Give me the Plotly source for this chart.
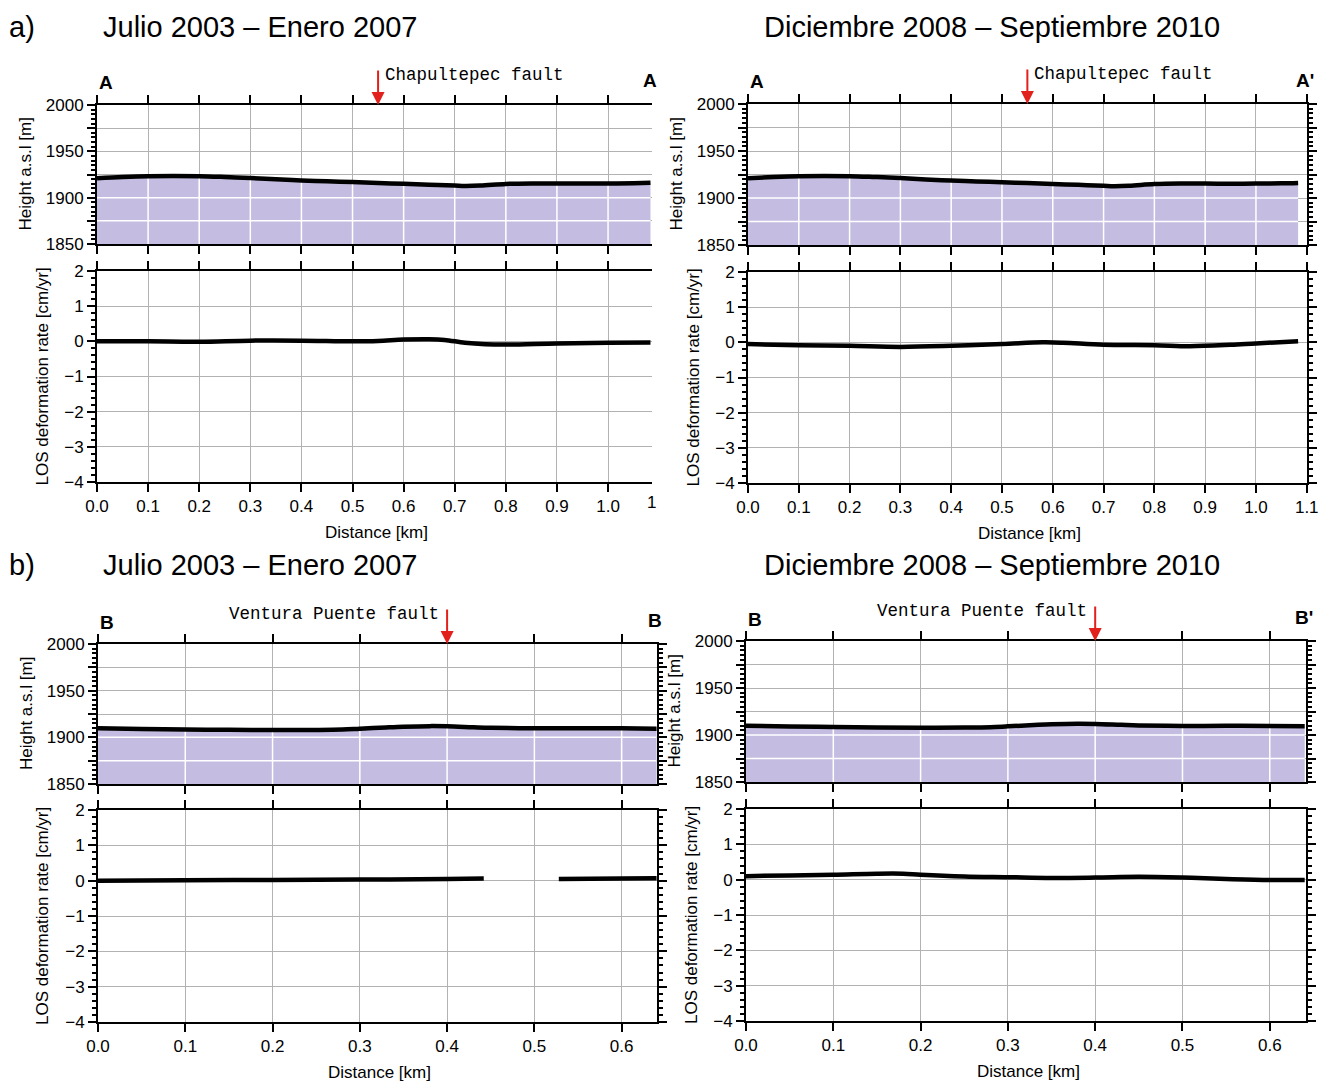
import numpy as np
import plotly.graph_objects as go

# ---------------- data ----------------
# Topographic profile A-A' (distance km, height m a.s.l.)
dist_A = [0.0, 0.05, 0.1, 0.15, 0.2, 0.25, 0.3, 0.35, 0.4, 0.45, 0.5, 0.55, 0.6,
          0.65, 0.7, 0.72, 0.75, 0.8, 0.85, 0.9, 0.95, 1.0, 1.05, 1.083]
height_A = [1921.0, 1922.3, 1923.2, 1923.4, 1923.2, 1922.3, 1921.2, 1919.8, 1918.5,
            1917.6, 1916.8, 1915.9, 1914.9, 1914.0, 1913.0, 1912.6, 1913.0, 1914.8,
            1915.4, 1915.3, 1915.2, 1915.3, 1915.6, 1916.0]

# Topographic profile B-B'
dist_B = [0.0, 0.05, 0.1, 0.15, 0.2, 0.25, 0.28, 0.3, 0.33, 0.35, 0.38, 0.4, 0.43,
          0.45, 0.5, 0.55, 0.6, 0.64]
height_B = [1909.8, 1909.0, 1908.5, 1908.0, 1907.8, 1907.9, 1908.3, 1909.2, 1910.6,
            1911.4, 1912.0, 1911.8, 1910.8, 1910.2, 1909.6, 1909.8, 1909.7, 1909.2]

# LOS deformation rate (cm/yr), A-A', Julio 2003 - Enero 2007
los_A1_dist = [0.0, 0.1, 0.2, 0.3, 0.4, 0.5, 0.55, 0.6, 0.65, 0.68, 0.72, 0.76, 0.8,
               0.9, 1.0, 1.083]
los_A1 = [0.0, 0.0, -0.01, 0.02, 0.02, 0.0, 0.01, 0.05, 0.06, 0.04, -0.04, -0.08,
          -0.09, -0.06, -0.04, -0.03]

# LOS deformation rate, A-A', Diciembre 2008 - Septiembre 2010
los_A2_dist = [0.0, 0.1, 0.2, 0.3, 0.4, 0.5, 0.58, 0.62, 0.7, 0.8, 0.87, 0.95, 1.0,
               1.083]
los_A2 = [-0.05, -0.08, -0.10, -0.13, -0.10, -0.05, 0.0, -0.01, -0.07, -0.08, -0.11,
          -0.07, -0.03, 0.03]

# LOS deformation rate, B-B', Julio 2003 - Enero 2007 (no data across the gap)
los_B1_dist = [0.0, 0.1, 0.2, 0.3, 0.4, 0.442, 0.485, 0.528, 0.6, 0.64]
los_B1 = [0.0, 0.01, 0.02, 0.03, 0.05, 0.06, None, 0.05, 0.06, 0.07]

# LOS deformation rate, B-B', Diciembre 2008 - Septiembre 2010
los_B2_dist = [0.0, 0.05, 0.1, 0.15, 0.18, 0.2, 0.25, 0.3, 0.35, 0.4, 0.45, 0.5,
               0.55, 0.6, 0.64]
los_B2 = [0.10, 0.12, 0.14, 0.17, 0.17, 0.14, 0.09, 0.07, 0.05, 0.06, 0.08, 0.06,
          0.02, -0.01, -0.01]

# Fault positions along each profile (km)
fault_A = 0.55
fault_B = 0.40

period_labels = ["Julio 2003 \u2013 Enero 2007", "Diciembre 2008 \u2013 Septiembre 2010"]
height_ticks = [1850, 1875, 1900, 1925, 1950, 1975, 2000]
height_ticktext = ["1850", "", "1900", "", "1950", "", "2000"]
los_ticks = [-4, -3, -2, -1, 0, 1, 2]

# ---------------- layout helpers ----------------
W, H = 1328, 1082
FONT = "Liberation Sans, Arial, Helvetica, sans-serif"
MONO = "Courier New, Liberation Mono, monospace"
FILL = "#c4bde1"
GRID = "#b2b2b2"


def px(x):
    return x / W


def py(y):
    return 1 - y / H


def label(x, y, text, size=17, family=FONT, xanchor="center", angle=0):
    """Free text placed in page pixel coordinates."""
    return dict(x=px(x), y=py(y), xref="paper", yref="paper", text=text,
                showarrow=False, xanchor=xanchor, yanchor="middle",
                textangle=angle, font=dict(family=family, size=size, color="black"))


panels = [
    dict(xd=(97, 652), hd=(105, 244), ld=(271, 482), xmax=1.086, right=False,
         dist=dist_A, h=height_A, ld_x=los_A1_dist, ld_y=los_A1, fault=fault_A,
         name="Chapultepec fault", side="right", ends=("A", "A")),
    dict(xd=(748, 1307), hd=(104, 245), ld=(272, 483), xmax=1.1005, right=True,
         dist=dist_A, h=height_A, ld_x=los_A2_dist, ld_y=los_A2, fault=fault_A,
         name="Chapultepec fault", side="right", ends=("A", "A'")),
    dict(xd=(98, 657), hd=(644, 784), ld=(810, 1022), xmax=0.6405, right=True,
         dist=dist_B, h=height_B, ld_x=los_B1_dist, ld_y=los_B1, fault=fault_B,
         name="Ventura Puente fault", side="left", ends=("B", "B")),
    dict(xd=(746, 1306), hd=(641, 782), ld=(809, 1021), xmax=0.6415, right=True,
         dist=dist_B, h=height_B, ld_x=los_B2_dist, ld_y=los_B2, fault=fault_B,
         name="Ventura Puente fault", side="left", ends=("B", "B'")),
]

fig = go.Figure()
layout = dict(
    width=W, height=H, margin=dict(l=0, r=0, t=0, b=0, autoexpand=False),
    paper_bgcolor="white", plot_bgcolor="white", showlegend=False,
    font=dict(family=FONT, size=17, color="black"),
)
annotations = []

axis_common = dict(
    showline=True, linecolor="black", linewidth=2, ticks="outside", ticklen=8,
    tickwidth=1.5, tickcolor="black", showgrid=True, gridcolor=GRID, gridwidth=1,
    zeroline=False, automargin=False,
    tickfont=dict(family=FONT, size=17, color="black"),
)

for i, p in enumerate(panels):
    hx, hy = 2 * i + 1, 2 * i + 1      # height subplot axes
    lx, ly = 2 * i + 2, 2 * i + 2      # LOS subplot axes
    xs = np.round(np.arange(0, p["xmax"] + 1e-9, 0.1), 2)

    for ax_i, (y0, y1), is_los in ((hx, p["hd"], False), (lx, p["ld"], True)):
        xa = dict(axis_common, domain=[px(p["xd"][0]), px(p["xd"][1])],
                  range=[0, p["xmax"]], tickmode="array", tickvals=list(xs),
                  tickformat=".1f", showticklabels=is_los, mirror="ticks",
                  anchor=f"y{ax_i}")
        if is_los:
            ya = dict(axis_common, domain=[py(y1), py(y0)], range=[-4, 2],
                      tickmode="array", tickvals=los_ticks,
                      minor=dict(tickmode="linear", tick0=0, dtick=0.2,
                                 ticks="outside", ticklen=4, tickcolor="black",
                                 showgrid=False),
                      anchor=f"x{ax_i}")
        else:
            ya = dict(axis_common, domain=[py(y1), py(y0)], range=[1850, 2000],
                      tickmode="array", tickvals=height_ticks, ticktext=height_ticktext,
                      minor=dict(tickmode="linear", tick0=1850, dtick=5,
                                 ticks="outside", ticklen=4, tickcolor="black",
                                 showgrid=False),
                      anchor=f"x{ax_i}")
        ya["mirror"] = "ticks" if p["right"] else False
        layout[f"xaxis{ax_i}"] = xa
        layout[f"yaxis{ax_i}"] = ya

    # filled topography
    fig.add_trace(go.Scatter(x=p["dist"], y=p["h"], mode="lines", fill="tozeroy",
                             fillcolor=FILL, line=dict(width=0, shape="spline"),
                             xaxis=f"x{hx}", yaxis=f"y{hy}", hoverinfo="skip"))
    # grid lines seen through the fill
    xend = p["dist"][-1]
    for gx in xs[1:]:
        if gx < xend:
            top = float(np.interp(gx, p["dist"], p["h"])) - 1.5
            fig.add_trace(go.Scatter(x=[gx, gx], y=[1850, top], mode="lines",
                                     line=dict(color="white", width=1.5),
                                     xaxis=f"x{hx}", yaxis=f"y{hy}", hoverinfo="skip"))
    for gy in (1875, 1900):
        fig.add_trace(go.Scatter(x=[0, xend], y=[gy, gy], mode="lines",
                                 line=dict(color="white", width=1.5),
                                 xaxis=f"x{hx}", yaxis=f"y{hy}", hoverinfo="skip"))
    # topographic line
    fig.add_trace(go.Scatter(x=p["dist"], y=p["h"], mode="lines",
                             line=dict(color="black", width=4.5, shape="spline"),
                             xaxis=f"x{hx}", yaxis=f"y{hy}"))
    # LOS deformation rate
    fig.add_trace(go.Scatter(x=p["ld_x"], y=p["ld_y"], mode="lines",
                             connectgaps=False,
                             line=dict(color="black", width=4.5, shape="spline"),
                             xaxis=f"x{lx}", yaxis=f"y{ly}"))

    # fault arrow and label
    annotations.append(dict(x=p["fault"], y=2000, xref=f"x{hx}", yref=f"y{hy}",
                            text="", showarrow=True, ax=0, ay=-36, arrowhead=2,
                            arrowsize=1.3, arrowwidth=2, arrowcolor="#e3211c"))
    if p["side"] == "right":
        annotations.append(dict(x=p["fault"], y=2000, xref=f"x{hx}", yref=f"y{hy}",
                                text=p["name"], showarrow=False,
                                xanchor="left", yanchor="middle", xshift=5, yshift=30,
                                font=dict(family=MONO, size=17.5, color="black")))
    else:
        annotations.append(dict(x=p["fault"], y=2000, xref=f"x{hx}", yref=f"y{hy}",
                                text=p["name"], showarrow=False,
                                xanchor="right", yanchor="middle", xshift=-6, yshift=30,
                                font=dict(family=MONO, size=17.5, color="black")))

    # profile end letters
    annotations.append(label(p["xd"][0] + 9, p["hd"][0] - 22,
                             "<b>%s</b>" % p["ends"][0], size=19))
    annotations.append(label(p["xd"][1] - 2, p["hd"][0] - 24,
                             "<b>%s</b>" % p["ends"][1], size=19))

    # axis titles
    annotations.append(label(p["xd"][0] - 72, (p["hd"][0] + p["hd"][1]) / 2,
                             "Height a.s.l [m]", angle=-90))
    annotations.append(label(p["xd"][0] - 55, (p["ld"][0] + p["ld"][1]) / 2,
                             "LOS deformation rate [cm/yr]", angle=-90))
    annotations.append(label((p["xd"][0] + p["xd"][1]) / 2 + 2, p["ld"][1] + 50,
                             "Distance [km]"))

# clipped last tick label of the first panel
annotations.append(label(651, 502, "1"))

# panel headings
for letter, ypx in (("a)", 27), ("b)", 565)):
    annotations.append(label(7, ypx, letter, size=29, xanchor="left"))
    annotations.append(label(101, ypx, period_labels[0], size=29, xanchor="left"))
    annotations.append(label(762, ypx, period_labels[1], size=29, xanchor="left"))

layout["annotations"] = annotations
fig.update_layout(**layout)
fig.write_html("out.html")
